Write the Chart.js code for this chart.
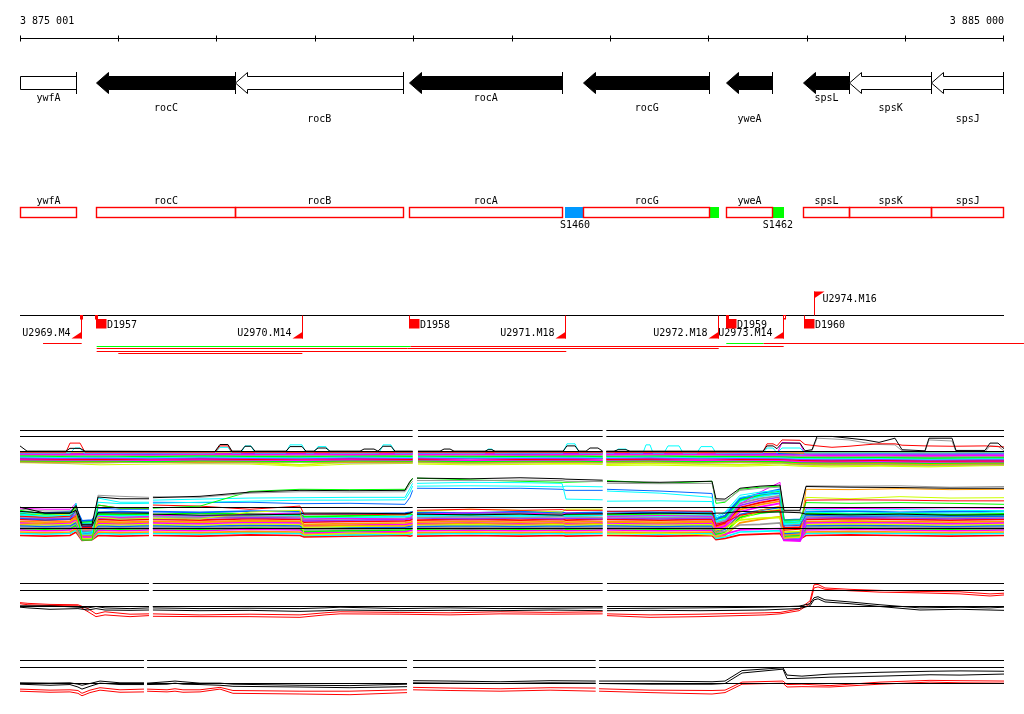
<!DOCTYPE html>
<html><head><meta charset="utf-8">
<style>html,body{margin:0;padding:0;background:#fff}canvas{display:block}</style>
<script src="https://cdn.jsdelivr.net/npm/chart.js@4.4.1/dist/chart.umd.min.js"></script>
</head><body>
<canvas id="c" width="1024" height="714"></canvas>
<script>
// ---------------- DATA ----------------
const X_MIN = 3875001, X_MAX = 3885000;
const tickPositions = [3875001,3876001,3877001,3878001,3879001,3880001,3881001,3882001,3883001,3884001,3885000];
const tickLabels = ['3 875 001','3 885 000'];

const geneNames  = ['ywfA','rocC','rocB','rocA','rocG','yweA','spsL','spsK','spsJ'];
const geneStart  = [3874650,3875780,3877189,3878957,3880729,3882185,3882964,3883428,3884268];
const geneEnd    = [3875580,3877189,3878896,3880512,3882009,3882643,3883428,3884268,3884995];
const geneStrand = [-1,-1,-1,-1,-1,-1,-1,-1,-1];
const geneFilled = [false,true,false,true,true,true,true,false,false];

const featureNames = ['S1460','','S1462'];
const featureStart = [3880549,3882012,3882643];
const featureEnd   = [3880732,3882101,3882762];
const featureKind  = ['blue','green','green'];

const uNames = ['U2969.M4','U2970.M14','U2971.M18','U2972.M18','U2973.M14','U2974.M16'];
const uPos   = [3875628,3877870,3880549,3882097,3882757,3883072];
const uDir   = [-1,-1,-1,-1,-1,1];
const dNames = ['D1957','D1958','D1959','D1960'];
const dPos   = [3875780,3878964,3882185,3882971];
const smallMarkPos    = [3875611,3875770,3882178,3882761];
const smallMarkFilled = [true,false,true,false];

const segStart = [3875235,3882178,3882558,3875780,3878971,3875780,3875780,3876000];
const segEnd   = [3875628,3882558,3885203,3878971,3882761,3882101,3880552,3877870];
const segKind  = ['red','green','red','green','red','red','red','red'];
const segRow   = [0,0,0,1,1,2,3,4];

// track segment extents (data present)
const segsA = [[3875001,3878991],[3879045,3880922],[3880959,3885000]];
const segsB = [[3875001,3876312],[3876350,3878991],[3879035,3880922],[3880966,3885000]];
const segsC = [[3875001,3876312],[3876350,3880922],[3880966,3885000]];
const segsD = [[3875001,3876261],[3876292,3878934],[3878995,3880851],[3880885,3885000]];

// ---- Track A (upper expression panel) ----
const posA = [3875001,3875407,3875814,3876322,3876830,3877338,3877846,3878354,3878991,3879015,3879045,3879573,3880081,3880589,3880922,3880940,3880959,3881403,3881911,3882317,3882724,3882927,3883232,3883740,3884248,3884755,3885000];
const bandA1  = [-0.1,-0.15,-0.1,-0.1,-0.15,-0.1,-0.1,-0.15,-0.1,null,-0.1,-0.15,-0.1,-0.1,-0.15,null,-0.1,-0.1,-0.15,-0.1,-0.1,-0.2,-0.15,-0.1,-0.15,-0.1,-0.1];
const bandA2  = [-0.2,-0.25,-0.2,-0.3,-0.2,-0.25,-0.2,-0.25,-0.2,null,-0.25,-0.2,-0.3,-0.2,-0.25,null,-0.2,-0.25,-0.2,-0.3,-0.25,-0.3,-0.35,-0.3,-0.35,-0.3,-0.3];
const bandA3  = [-0.35,-0.4,-0.35,-0.45,-0.35,-0.4,-0.35,-0.4,-0.35,null,-0.4,-0.35,-0.45,-0.4,-0.35,null,-0.4,-0.35,-0.4,-0.45,-0.4,-0.5,-0.55,-0.5,-0.6,-0.5,-0.55];
const bandA4  = [-0.45,-0.5,-0.55,-0.5,-0.45,-0.5,-0.55,-0.5,-0.45,null,-0.5,-0.55,-0.5,-0.45,-0.5,null,-0.55,-0.5,-0.45,-0.5,-0.55,-0.65,-0.7,-0.65,-0.75,-0.7,-0.7];
const bandA5  = [-0.6,-0.65,-0.6,-0.7,-0.6,-0.65,-0.7,-0.6,-0.65,null,-0.6,-0.7,-0.65,-0.6,-0.7,null,-0.65,-0.6,-0.7,-0.65,-0.7,-0.8,-0.85,-0.8,-0.9,-0.85,-0.85];
const bandA6  = [-0.75,-0.8,-0.75,-0.85,-0.75,-0.8,-0.85,-0.75,-0.8,null,-0.75,-0.85,-0.8,-0.75,-0.85,null,-0.8,-0.75,-0.85,-0.8,-0.85,-0.95,-1.0,-0.95,-1.05,-1.0,-1.0];
const bandA7  = [-0.9,-0.95,-0.9,-1.0,-0.9,-0.95,-1.0,-0.9,-0.95,null,-0.9,-1.0,-0.95,-0.9,-1.0,null,-0.95,-0.9,-1.0,-0.95,-1.0,-1.1,-1.15,-1.1,-1.2,-1.15,-1.15];
const bandA8  = [-1.0,-1.05,-1.1,-1.05,-1.0,-1.1,-1.05,-1.0,-1.1,null,-1.05,-1.0,-1.1,-1.05,-1.0,null,-1.1,-1.05,-1.0,-1.1,-1.05,-1.25,-1.3,-1.25,-1.35,-1.3,-1.3];
const bandA9  = [-1.15,-1.2,-1.15,-1.25,-1.15,-1.2,-1.25,-1.15,-1.2,null,-1.15,-1.25,-1.2,-1.15,-1.25,null,-1.2,-1.15,-1.25,-1.2,-1.25,-1.4,-1.45,-1.4,-1.5,-1.45,-1.45];
const bandA10 = [-1.3,-1.35,-1.3,-1.4,-1.3,-1.35,-1.4,-1.3,-1.35,null,-1.3,-1.4,-1.35,-1.3,-1.4,null,-1.35,-1.3,-1.4,-1.35,-1.4,-1.55,-1.6,-1.55,-1.65,-1.6,-1.6];
const bandA11 = [-1.4,-1.5,-1.45,-1.4,-1.5,-1.45,-1.4,-1.5,-1.45,null,-1.4,-1.5,-1.45,-1.4,-1.5,null,-1.45,-1.4,-1.5,-1.45,-1.5,-1.7,-1.75,-1.7,-1.8,-1.75,-1.75];
const bandA12 = [-1.5,-1.6,-1.55,-1.5,-1.6,-1.55,-1.5,-1.6,-1.55,null,-1.5,-1.6,-1.55,-1.5,-1.6,null,-1.55,-1.5,-1.6,-1.55,-1.6,-1.8,-1.85,-1.8,-1.9,-1.85,-1.85];
const bandA13 = [-1.3,-1.5,-1.6,-1.4,-1.5,-1.6,-1.9,-1.5,-1.6,null,-1.6,-1.7,-1.6,-1.7,-1.6,null,-1.8,-1.7,-1.8,-1.9,-1.7,-1.9,-2.0,-1.9,-2.05,-1.9,-1.85];
const bandA14 = [-1.6,-1.7,-1.9,-1.8,-1.75,-1.8,-2.1,-1.8,-1.7,null,-1.8,-1.9,-1.85,-1.8,-1.85,null,-2.0,-1.95,-2.05,-2.1,-1.95,-2.1,-2.2,-2.1,-2.2,-2.05,-2.0];

const peakBlackA = [[3875001,0.8],[3875072,0.05],[3875468,0.05],[3875509,0.45],[3875611,0.45],[3875661,0.05],
 [3876982,0.0],[3877033,1.0],[3877114,1.0],[3877155,0.05],[3877247,0.05],[3877287,0.75],[3877348,0.75],[3877389,0.05],
 [3877704,0.05],[3877745,0.7],[3877867,0.7],[3877907,0.05],[3877988,0.05],[3878029,0.5],[3878110,0.5],[3878151,0.05],
 [3878456,0.05],[3878497,0.35],[3878598,0.35],[3878639,0.05],[3878649,0.05],[3878690,0.75],[3878771,0.75],[3878812,0.05],
 [3878991,0.05],[3879015,null],[3879045,0.05],[3879269,0.05],[3879310,0.35],[3879371,0.35],[3879411,0.05],
 [3879726,0.05],[3879757,0.25],[3879797,0.25],[3879828,0.05],[3880519,0.05],[3880559,0.8],[3880641,0.8],[3880681,0.05],
 [3880753,0.05],[3880793,0.5],[3880874,0.5],[3880922,0.05],[3880940,null],[3880959,0.05],
 [3881037,0.05],[3881078,0.25],[3881159,0.25],[3881200,0.05],
 [3882551,0.05],[3882592,0.8],[3882653,0.8],[3882693,0.4],[3882744,1.2],[3882927,1.2],[3882978,0.1],
 [3883049,0.25],[3883100,2.15],[3883252,2.15],[3883425,1.9],[3883588,1.65],[3883730,1.3],[3883892,1.9],[3883964,0.25],
 [3884197,0.1],[3884238,1.9],[3884472,1.9],[3884512,0.15],[3884807,0.15],[3884858,1.2],[3884939,1.2],[3885000,0.4]];
const peakRedA = [[3875001,-0.1],[3875468,-0.1],[3875509,1.2],[3875611,1.2],[3875661,-0.1],
 [3876982,-0.1],[3877033,0.8],[3877114,0.8],[3877155,-0.1],[3878991,-0.1],[3879015,null],[3879045,-0.1],
 [3880922,-0.1],[3880940,null],[3880959,-0.1],
 [3882551,-0.1],[3882592,1.1],[3882653,1.1],[3882693,0.8],[3882744,1.65],[3882927,1.6],[3882978,1.0],
 [3883100,0.8],[3883252,0.6],[3883425,0.75],[3883588,0.95],[3883730,1.1],[3883892,1.1],[3883964,0.9],
 [3884197,0.8],[3884472,0.75],[3884807,0.8],[3885000,0.65]];
const peakCyanA = [[3875001,-0.2],[3875509,-0.2],[3875560,0.5],[3875611,0.5],[3875651,-0.2],
 [3876982,-0.2],[3877033,0.6],[3877114,0.6],[3877155,-0.2],[3877247,-0.2],[3877287,0.8],[3877348,0.8],[3877389,-0.2],
 [3877704,-0.2],[3877745,0.95],[3877867,0.95],[3877907,-0.2],[3877988,-0.2],[3878029,0.7],[3878110,0.7],[3878151,-0.2],
 [3878649,-0.2],[3878690,0.95],[3878771,0.95],[3878812,-0.2],[3878991,-0.2],[3879015,null],[3879045,-0.2],
 [3879726,-0.2],[3879757,0.35],[3879797,0.35],[3879828,-0.2],[3880519,-0.2],[3880559,1.1],[3880641,1.1],[3880681,-0.2],
 [3880922,-0.2],[3880940,null],[3880959,-0.2],[3881037,-0.2],[3881078,0.35],[3881159,0.35],[3881200,-0.2],
 [3881332,-0.2],[3881362,0.95],[3881403,0.95],[3881433,-0.2],[3881545,-0.2],[3881586,0.8],[3881698,0.8],[3881738,-0.2],
 [3881880,-0.2],[3881921,0.7],[3882033,0.7],[3882073,-0.2],
 [3882551,-0.2],[3882592,0.5],[3882653,0.5],[3882693,-0.2],[3882744,0.5],[3882927,0.5],[3882978,-0.2],[3885000,-0.2]];
const peakGrayA = [[3875001,-0.05],[3878991,-0.05],[3879015,null],[3879045,-0.05],[3880922,-0.05],[3880940,null],[3880959,-0.05],
 [3882978,-0.05],[3883049,0.1],[3883100,1.9],[3883252,1.8],[3883425,1.65],[3883588,1.25],[3883730,1.0],[3883892,0.95],
 [3883964,0.1],[3884197,-0.05],[3884238,1.65],[3884472,1.5],[3884512,-0.05],[3884807,-0.05],[3884858,0.8],[3884939,0.75],[3885000,0.1]];
const peakMagentaA = [[3875001,-0.35],[3878991,-0.35],[3879015,null],[3879045,-0.35],[3880922,-0.35],[3880940,null],[3880959,-0.35],
 [3882693,-0.35],[3882744,1.3],[3882927,1.15],[3882978,-0.35],[3885000,-0.35]];

// ---- Track B (lower expression panel) ----
const posB = [3875001,3875255,3875509,3875570,3875631,3875733,3875794,3876017,3876312,3876332,3876352,3876830,3877338,3877846,3877887,3878354,3878913,3878964,3878991,3879015,3879035,3879574,3880082,3880509,3880549,3880922,3880946,3880966,3881504,3882033,3882073,3882165,3882317,3882521,3882724,3882764,3882927,3882988,3883435,3883943,3884451,3885000];
const serB1  = [3.05,2.2,2.2,3.3,0.6,0.6,4.5,4.25,4.25,null,4.4,4.6,5.2,5.45,5.45,5.4,5.45,6.75,7.1,null,7.2,7.1,7.25,7.1,7.05,6.9,null,6.7,6.6,6.75,4.25,4.2,5.75,6.05,6.2,2.6,2.6,6.0,5.9,5.85,5.75,5.75];
const serB2  = [2.75,2.5,2.5,3.2,-0.25,-0.25,4.75,4.6,4.45,null,4.55,4.45,5.05,5.25,5.25,5.2,5.25,6.35,6.75,null,6.85,6.85,6.9,6.85,6.75,6.7,null,6.45,6.4,6.45,4.05,3.9,5.45,5.75,5.9,2.35,2.35,6.1,6.05,6.1,5.9,6.0];
const serB3  = [2.6,2.05,2.2,3.05,-1.65,-1.65,3.35,2.9,2.9,null,2.9,3.2,5.3,5.6,5.6,5.55,5.6,6.6,7.2,null,7.2,6.95,6.75,6.6,6.6,6.75,null,6.85,6.45,6.75,3.6,3.75,5.6,5.9,6.05,1.2,1.2,3.7,3.6,3.7,3.6,3.45];
const serB4  = [2.35,2.05,2.2,3.45,-0.65,-0.5,4.35,3.75,3.75,null,4.05,4.2,4.35,4.4,4.4,4.45,4.45,5.75,6.45,null,6.45,6.6,6.55,6.45,4.2,4.1,null,5.35,5.05,4.45,1.75,2.35,4.75,5.2,5.45,0.9,1.05,2.75,2.6,2.7,2.6,2.55];
const serB5  = [2.05,1.75,1.9,3.6,-0.8,-0.8,3.75,3.55,3.6,null,3.6,3.75,3.9,4.05,4.05,4.05,4.1,5.2,6.05,null,6.05,6.1,6.05,5.95,6.05,5.95,null,3.9,3.95,3.85,1.45,2.2,4.45,4.9,5.2,0.6,0.75,2.35,2.2,2.25,2.2,2.35];
const serB6  = [1.45,1.2,1.35,2.75,-0.5,-0.5,2.9,2.75,2.75,null,3.75,3.7,3.75,3.55,3.55,3.6,3.45,4.45,5.45,null,5.75,5.7,5.75,5.6,5.45,5.45,null,5.6,5.35,5.0,1.2,1.9,4.35,4.9,5.05,0.35,0.45,1.9,1.75,1.8,1.75,1.7];
const serB7  = [1.75,1.6,1.75,2.45,0.05,0.05,3.35,2.9,2.85,null,3.35,3.2,2.75,3.2,2.05,2.05,1.95,2.2,2.35,null,2.6,2.75,2.6,2.7,2.6,2.6,null,2.45,2.55,2.45,0.6,0.9,1.9,2.35,2.6,-0.25,-0.1,4.05,4.1,4.05,3.95,3.95];
const serB8  = [0.6,0.75,0.9,1.9,-0.95,-0.95,0.9,0.75,0.9,null,1.05,0.9,1.2,1.05,0.35,0.45,0.35,0.45,0.6,null,0.6,0.75,0.6,0.75,0.6,0.75,null,0.9,0.75,0.9,-0.55,0.05,1.75,2.6,3.2,-0.95,-0.8,5.6,5.55,5.7,5.55,5.6];
const serB9  = [2.35,1.9,2.05,2.9,-1.4,-1.4,1.6,1.35,1.45,null,1.45,1.35,2.35,2.6,-0.95,-0.65,-0.75,-0.6,-0.5,null,2.45,2.75,2.6,2.35,2.75,2.75,null,-0.8,-0.65,-0.95,-1.1,-0.65,1.35,2.35,2.75,-1.4,-1.25,4.45,4.25,4.55,4.35,4.4];
const serB10 = [2.9,2.75,2.75,3.6,-1.1,-1.25,1.75,1.6,1.7,null,1.9,1.75,2.05,2.2,1.35,1.45,1.35,1.45,1.9,null,2.05,2.25,2.2,2.05,2.2,2.05,null,1.75,1.85,1.75,0.05,0.45,3.45,5.2,6.6,-1.4,-1.55,2.9,2.85,2.9,2.95,2.9];
const serB11 = [2.45,2.2,2.2,2.6,0.35,0.35,2.25,2.2,2.2,null,2.05,1.9,1.95,2.05,2.2,2.2,2.1,2.2,2.35,null,2.05,1.95,2.05,1.9,2.05,2.1,null,2.1,2.2,2.1,2.2,2.2,2.45,2.35,2.35,2.35,2.25,2.05,1.95,2.05,1.9,1.95];
const bandB1  = [2.3,2.2,2.4,2.9,1.1,1.2,2.3,2.4,2.3,null,2.4,2.3,2.5,2.4,2.0,2.1,2.2,2.3,2.4,null,2.3,2.2,2.4,2.3,2.2,2.3,null,2.4,2.3,2.4,1.5,1.8,4.3,5.0,5.6,1.2,1.3,2.4,2.5,2.3,2.4,2.5];
const bandB2  = [2.1,2.0,2.2,2.7,0.9,1.0,2.1,2.0,2.1,null,2.0,2.2,2.1,2.0,1.7,1.8,2.0,2.1,2.0,null,2.1,2.0,2.2,2.1,2.0,2.1,null,2.0,2.1,2.2,1.3,1.6,4.1,4.8,5.3,0.9,1.0,2.2,2.1,2.2,2.0,2.1];
const bandB3  = [1.9,1.8,1.9,2.5,0.7,0.8,1.9,1.8,1.9,null,1.9,1.8,2.0,1.9,1.5,1.6,1.7,1.8,1.9,null,1.8,1.9,1.8,1.9,1.8,1.9,null,1.9,1.8,1.9,1.0,1.4,3.9,4.6,5.0,0.7,0.8,1.9,2.0,1.9,1.8,1.9];
const bandB4  = [1.7,1.6,1.7,2.3,0.5,0.6,1.7,1.6,1.7,null,1.7,1.6,1.8,1.7,1.3,1.4,1.5,1.6,1.7,null,1.6,1.7,1.6,1.7,1.7,1.6,null,1.7,1.6,1.7,0.8,1.2,3.6,4.3,4.7,0.5,0.6,1.7,1.8,1.7,1.6,1.7];
const bandB5  = [1.5,1.4,1.5,2.0,0.3,0.4,1.5,1.4,1.5,null,1.4,1.5,1.6,1.5,1.1,1.2,1.3,1.4,1.5,null,1.5,1.4,1.5,1.4,1.5,1.4,null,1.5,1.4,1.5,0.6,1.0,3.3,4.0,4.5,-1.5,-1.6,1.5,1.6,1.5,1.4,1.5];
const bandB6  = [1.3,1.2,1.3,1.8,0.1,0.2,1.3,1.2,1.3,null,1.3,1.2,1.4,1.3,0.9,1.0,1.1,1.2,1.3,null,1.2,1.3,1.2,1.3,1.2,1.3,null,1.3,1.2,1.3,0.4,0.8,3.0,3.7,4.2,0.1,0.2,1.3,1.4,1.3,1.2,1.3];
const bandB7  = [1.0,0.9,1.0,1.5,-0.1,0.0,1.0,0.9,1.0,null,1.0,0.9,1.1,1.0,0.6,0.7,0.8,0.9,1.0,null,0.9,1.0,0.9,1.0,0.9,1.0,null,1.0,0.9,1.0,0.2,0.6,2.7,3.4,3.9,-0.1,0.0,1.0,1.1,1.0,0.9,1.0];
const bandB8  = [0.8,0.7,0.8,1.3,-0.3,-0.2,0.8,0.7,0.8,null,0.8,0.7,0.9,0.8,0.4,0.5,0.6,0.7,0.8,null,0.7,0.8,0.7,0.8,0.7,0.8,null,0.8,0.7,0.8,0.0,0.3,2.4,3.1,3.6,-1.6,-1.7,0.8,0.9,0.8,0.7,0.8];
const bandB9  = [0.6,0.5,0.6,1.1,-0.5,-0.4,0.6,0.5,0.6,null,0.6,0.5,0.7,0.6,0.2,0.3,0.4,0.5,0.6,null,0.5,0.6,0.5,0.6,0.5,0.6,null,0.6,0.5,0.6,-0.2,0.1,1.2,1.5,1.6,-0.5,-0.4,0.6,0.7,0.6,0.5,0.6];
const bandB10 = [0.4,0.3,0.4,0.9,-0.7,-0.6,0.4,0.3,0.4,null,0.4,0.3,0.5,0.4,0.0,0.1,0.2,0.3,0.4,null,0.3,0.4,0.3,0.4,0.3,0.4,null,0.4,0.3,0.4,-0.4,-0.1,2.0,2.6,3.0,-0.7,-0.6,0.4,0.5,0.4,0.3,0.4];
const bandB11 = [0.2,0.1,0.2,0.7,-0.9,-0.8,0.2,0.1,0.2,null,0.2,0.1,0.3,0.2,-0.2,-0.1,0.0,0.1,0.2,null,0.1,0.2,0.1,0.2,0.1,0.2,null,0.2,0.1,0.2,-0.6,-0.4,0.5,0.6,0.8,-0.9,-0.8,0.2,0.3,0.2,0.1,0.2];
const bandB12 = [0.0,-0.1,0.0,0.5,-1.1,-1.0,0.0,-0.1,0.0,null,0.0,-0.1,0.1,0.0,-0.4,-0.3,-0.2,-0.1,0.0,null,-0.1,0.0,-0.1,0.0,-0.1,0.0,null,0.0,-0.1,0.0,-0.8,-0.6,1.6,2.2,2.5,-1.1,-1.0,0.0,0.1,0.0,-0.1,0.0];
const bandB13 = [-0.2,-0.3,-0.2,0.3,-1.3,-1.2,-0.2,-0.3,-0.2,null,-0.2,-0.3,-0.1,-0.2,-0.6,-0.5,-0.4,-0.3,-0.2,null,-0.3,-0.2,-0.3,-0.2,-0.3,-0.2,null,-0.2,-0.3,-0.2,-1.0,-0.8,-0.2,-0.1,0.0,-1.7,-1.8,-0.2,-0.1,-0.2,-0.3,-0.2];
const bandB14 = [-0.5,-0.6,-0.5,0.0,-1.5,-1.4,-0.5,-0.6,-0.5,null,-0.5,-0.6,-0.4,-0.5,-0.8,-0.7,-0.6,-0.6,-0.5,null,-0.6,-0.5,-0.6,-0.5,-0.6,-0.5,null,-0.5,-0.6,-0.5,-1.2,-1.0,0.8,1.3,1.7,-1.3,-1.2,-0.5,-0.4,-0.5,-0.6,-0.5];
const bandB15 = [-0.7,-0.8,-0.7,-0.2,-1.6,-1.5,-0.7,-0.8,-0.7,null,-0.7,-0.8,-0.6,-0.7,-1.0,-0.9,-0.8,-0.8,-0.7,null,-0.8,-0.7,-0.8,-0.7,-0.8,-0.7,null,-0.7,-0.8,-0.7,-1.4,-1.2,-0.5,-0.4,-0.3,-1.5,-1.4,-0.7,-0.6,-0.7,-0.8,-0.7];
const bandB16 = [-1.0,-1.1,-1.0,-0.5,-1.7,-1.6,-1.0,-1.1,-1.0,null,-1.0,-1.1,-0.9,-1.0,-1.2,-1.1,-1.0,-1.1,-1.0,null,-1.1,-1.0,-1.1,-1.0,-1.1,-1.0,null,-1.0,-1.1,-1.0,-1.6,-1.4,-0.9,-0.8,-0.7,-1.6,-1.5,-1.0,-0.9,-1.0,-1.1,-1.0];

// ---- Track C (ratio panel 1) ----
const posC = [3875001,3875082,3875306,3875590,3875692,3875773,3875865,3876119,3876312,3876332,3876352,3876830,3877338,3877846,3878100,3878253,3878862,3879371,3879879,3880387,3880922,3880946,3880966,3881403,3881911,3882571,3882724,3882917,3883029,3883069,3883110,3883181,3883435,3883740,3884146,3884553,3884858,3885000];
const blackC1 = [0.1,0.1,0.1,-0.1,-0.2,0,-0.2,-0.3,-0.2,null,-0.2,-0.3,-0.25,-0.3,-0.2,-0.1,-0.3,-0.2,-0.3,-0.25,-0.2,null,-0.3,-0.25,-0.2,-0.1,-0.05,0.05,0.4,1.25,1.4,0.95,0.65,0.25,-0.2,-0.1,-0.2,-0.1];
const blackC2 = [-0.1,-0.2,-0.4,-0.3,-0.5,-0.3,-0.5,-0.55,-0.5,null,-0.5,-0.6,-0.55,-0.7,-0.6,-0.5,-0.6,-0.55,-0.6,-0.5,-0.6,null,-0.6,-0.55,-0.6,-0.5,-0.4,-0.3,0.1,0.95,1.1,0.65,0.4,0,-0.5,-0.4,-0.5,-0.55];
const redC1   = [0.55,0.45,0.3,0.25,-0.3,-1.05,-0.75,-1.1,-1.05,null,-1.05,-1.2,-1.1,-1.2,-0.9,-0.75,-0.85,-0.9,-0.75,-0.85,-0.75,null,-1.05,-1.2,-1.1,-0.9,-0.85,-0.35,0.8,3.1,3.15,2.65,2.45,2.3,2.15,2.1,1.8,1.9];
const redC2   = [0.4,0.25,0.15,0.1,-0.75,-1.45,-1.2,-1.45,-1.3,null,-1.4,-1.45,-1.45,-1.55,-1.2,-1.05,-1.1,-1.2,-1.05,-1.1,-1.05,null,-1.3,-1.55,-1.45,-1.2,-1.05,-0.6,0.4,2.65,2.8,2.45,2.25,2.05,1.95,1.8,1.5,1.65];

// ---- Track D (ratio panel 2) ----
const posD = [3875001,3875306,3875509,3875590,3875631,3875712,3875814,3876017,3876261,3876276,3876292,3876495,3876576,3876657,3876830,3877033,3877165,3877846,3878354,3878934,3878964,3878995,3879371,3879879,3880387,3880851,3880867,3880885,3881403,3882033,3882165,3882338,3882754,3882795,3882947,3883232,3883740,3884248,3884553,3885000];
const blackD1 = [0.1,0.05,0.1,-0.1,-0.25,0,0.35,0.1,0.1,null,0.05,0.25,0.35,0.25,0.05,0.05,-0.1,-0.25,-0.3,-0.1,null,0.4,0.35,0.25,0.4,0.35,null,0.35,0.35,0.25,0.35,1.85,2.25,1.2,1.05,1.35,1.6,1.75,1.8,1.75];
const blackD2 = [-0.1,-0.25,-0.15,-0.5,-0.8,-0.4,0.05,-0.15,-0.15,null,-0.15,-0.1,0.05,-0.1,-0.15,-0.25,-0.4,-0.5,-0.6,-0.45,null,0.1,0.05,0,0.1,0.05,null,0,-0.1,-0.1,0,1.5,2.05,0.7,0.75,0.9,1.05,1.25,1.2,1.35];
const redD1   = [-0.8,-0.95,-0.9,-1.0,-1.4,-0.95,-0.6,-0.9,-0.8,null,-0.8,-0.9,-0.75,-0.9,-0.9,-0.55,-1.0,-1.1,-1.1,-0.9,null,-0.55,-0.65,-0.75,-0.6,-0.65,null,-0.75,-0.95,-1.0,-0.95,0.2,0.35,-0.15,-0.1,-0.3,0.2,0.45,0.4,0.35];
const redD2   = [-1.1,-1.25,-1.2,-1.4,-1.75,-1.3,-0.95,-1.25,-1.2,null,-1.1,-1.2,-1.1,-1.25,-1.2,-0.8,-1.4,-1.5,-1.6,-1.3,null,-0.9,-1.0,-1.1,-0.95,-1.1,null,-1.1,-1.3,-1.5,-1.3,-0.1,0.05,-0.5,-0.45,-0.5,-0.1,0.2,0.1,0.05];

// ---------------- LAYOUT & STYLE ----------------
const L = {
  height: 714,
  font: '10px "DejaVu Sans Mono", monospace',
  axisRow: 38.5, tickTop: 35.5, tickBot: 41.5, axisLabelBase: 24,
  bodyTop: 76.5, bodyBot: 89.5, headTop: 72.5, headBot: 93.5, headLen: 12,
  geneLabelBase: [101, 111, 122],
  boxTop: 207.5, boxBot: 217.5, boxLabelBase: 204, featLabelBase: 227.5,
  markRow: 315.5, uDownEnd: 338.5, uUpEnd: 291.5, triW: 10, triH: 7,
  uLabelGap: 11, uDownLabelBase: 336, uUpLabelBase: 302, uUpLabelGap: 8,
  dStemEnd: 319.5, dRectTop: 319, dRectH: 9.5, dRectW: 10.5, dLabelBase: 328, dLabelGap: 10.5,
  smallTop: 315, smallW: 3, smallH: 4.5,
  segRows: [343.5, 346.5, 348.5, 351.5, 353.5],
  lineW: 1, bandW: 1.7,
  tracks: {
    yA: {base: 451.5, unit: 7, refs: [0, 15, 21]},
    yB: {base: 528.5, unit: 7, refs: [0, 21]},
    yC: {base: 606.5, unit: 7, refs: [0, 16, 23]},
    yD: {base: 683.5, unit: 7, refs: [0, 16, 23]}
  }
};
const C = {black:'#000000', red:'#ff0000', lime:'#00ff00', green:'#00ff00', blue:'#0066ff', featBlue:'#0099ff',
  cyan:'#00ffff', magenta:'#ff00ff', ygreen:'#ccff00', orange:'#ff9900', gray:'#999999', purple:'#9933ff'};

// ---------------- DATASETS ----------------
function series(pos, vals, color, axis, w) {
  return { data: pos.map((x, i) => ({x, y: (vals[i] === undefined ? null : vals[i])})),
    borderColor: color, yAxisID: axis, borderWidth: w || L.lineW, pointRadius: 0, tension: 0, spanGaps: false, fill: false };
}
function band(pos, vals, color, axis) { return series(pos, vals, color, axis, L.bandW); }
function pairs(list, color, axis) {
  return { data: list.map(([x, y]) => ({x, y})), borderColor: color, yAxisID: axis,
    borderWidth: L.lineW, pointRadius: 0, tension: 0, spanGaps: false, fill: false };
}
function refLines(segs, axisId) {
  const t = L.tracks[axisId];
  return t.refs.map(off => {
    const v = off / t.unit, data = [];
    segs.forEach(([s, e], k) => {
      if (k) data.push({x: (segs[k-1][1] + s) / 2, y: null});
      data.push({x: s, y: v}, {x: e, y: v});
    });
    return {data, borderColor: C.black, yAxisID: axisId, borderWidth: 1, pointRadius: 0, spanGaps: false, fill: false};
  });
}

const datasets = [].concat(
  refLines(segsA, 'yA'), refLines(segsB, 'yB'), refLines(segsC, 'yC'), refLines(segsD, 'yD'),
  [
    pairs(peakBlackA, C.black, 'yA'), pairs(peakRedA, C.red, 'yA'), pairs(peakGrayA, C.gray, 'yA'),
    pairs(peakCyanA, C.cyan, 'yA'), pairs(peakMagentaA, C.magenta, 'yA'),
    band(posA, bandA1, C.orange, 'yA'), band(posA, bandA2, C.blue, 'yA'), band(posA, bandA3, C.magenta, 'yA'),
    band(posA, bandA4, C.gray, 'yA'), band(posA, bandA5, C.lime, 'yA'), band(posA, bandA6, C.cyan, 'yA'),
    band(posA, bandA7, C.purple, 'yA'), band(posA, bandA8, C.red, 'yA'), band(posA, bandA9, C.magenta, 'yA'),
    band(posA, bandA10, C.lime, 'yA'), band(posA, bandA11, C.orange, 'yA'), band(posA, bandA12, C.gray, 'yA'),
    band(posA, bandA13, C.ygreen, 'yA'), series(posA, bandA14, C.ygreen, 'yA'),

    series(posB, serB1, C.black, 'yB'), series(posB, serB11, C.black, 'yB'), series(posB, serB2, C.gray, 'yB'),
    series(posB, serB3, C.lime, 'yB'), series(posB, serB4, C.cyan, 'yB'), series(posB, serB5, C.cyan, 'yB'),
    series(posB, serB6, C.blue, 'yB'), series(posB, serB7, C.red, 'yB'), series(posB, serB8, C.orange, 'yB'),
    series(posB, serB9, C.ygreen, 'yB'), series(posB, serB10, C.magenta, 'yB'),
    band(posB, bandB1, C.blue, 'yB'), band(posB, bandB2, C.lime, 'yB'), band(posB, bandB3, C.cyan, 'yB'),
    band(posB, bandB4, C.gray, 'yB'), band(posB, bandB5, C.purple, 'yB'), band(posB, bandB6, C.red, 'yB'),
    band(posB, bandB7, C.orange, 'yB'), band(posB, bandB8, C.magenta, 'yB'), band(posB, bandB9, C.ygreen, 'yB'),
    band(posB, bandB10, C.blue, 'yB'), band(posB, bandB11, C.gray, 'yB'), band(posB, bandB12, C.lime, 'yB'),
    band(posB, bandB13, C.magenta, 'yB'), band(posB, bandB14, C.orange, 'yB'), band(posB, bandB15, C.cyan, 'yB'),
    band(posB, bandB16, C.red, 'yB'),

    series(posC, blackC1, C.black, 'yC'), series(posC, blackC2, C.black, 'yC'),
    series(posC, redC1, C.red, 'yC'), series(posC, redC2, C.red, 'yC'),
    series(posD, blackD1, C.black, 'yD'), series(posD, blackD2, C.black, 'yD'),
    series(posD, redD1, C.red, 'yD'), series(posD, redD2, C.red, 'yD')
  ]
);

// ---------------- ANNOTATION PLUGIN ----------------
const annot = {
  id: 'annot',
  afterDatasetsDraw(chart) {
    const ctx = chart.ctx, xs = chart.scales.x, rs = chart.scales.row;
    const X = v => xs.getPixelForValue(v);
    const R = v => rs.getPixelForValue(v);
    const col = v => Math.floor(X(v)) + 0.5;
    ctx.save();
    ctx.font = L.font; ctx.lineWidth = 1; ctx.textBaseline = 'alphabetic';

    // coordinate axis
    ctx.strokeStyle = C.black; ctx.fillStyle = C.black;
    ctx.beginPath();
    ctx.moveTo(X(X_MIN), R(L.axisRow)); ctx.lineTo(X(X_MAX), R(L.axisRow));
    tickPositions.forEach(t => { const x = Math.min(col(t), X(X_MAX) - 0.5); ctx.moveTo(x, R(L.tickTop)); ctx.lineTo(x, R(L.tickBot)); });
    ctx.stroke();
    ctx.textAlign = 'left'; ctx.fillText(tickLabels[0], X(tickPositions[0]), R(L.axisLabelBase));
    ctx.textAlign = 'right'; ctx.fillText(tickLabels[1], X(tickPositions[tickPositions.length - 1]), R(L.axisLabelBase));

    // gene arrows
    const mid = (L.bodyTop + L.bodyBot) / 2;
    geneNames.forEach((name, i) => {
      const s = Math.max(geneStart[i], X_MIN), e = Math.min(geneEnd[i], X_MAX);
      const x0 = col(s), x1 = col(e);
      const head = geneStrand[i] < 0 ? geneStart[i] >= X_MIN : geneEnd[i] <= X_MAX;
      ctx.beginPath();
      if (head && geneStrand[i] < 0) {
        const hb = x0 + L.headLen;
        ctx.moveTo(x0, R(mid)); ctx.lineTo(hb, R(L.headTop)); ctx.lineTo(hb, R(L.bodyTop)); ctx.lineTo(x1, R(L.bodyTop));
        ctx.lineTo(x1, R(L.bodyBot)); ctx.lineTo(hb, R(L.bodyBot)); ctx.lineTo(hb, R(L.headBot)); ctx.closePath();
      } else if (head) {
        const hb = x1 - L.headLen;
        ctx.moveTo(x1, R(mid)); ctx.lineTo(hb, R(L.headTop)); ctx.lineTo(hb, R(L.bodyTop)); ctx.lineTo(x0, R(L.bodyTop));
        ctx.lineTo(x0, R(L.bodyBot)); ctx.lineTo(hb, R(L.bodyBot)); ctx.lineTo(hb, R(L.headBot)); ctx.closePath();
      } else {
        ctx.rect(x0, R(L.bodyTop), x1 - x0, R(L.bodyBot) - R(L.bodyTop));
      }
      ctx.fillStyle = geneFilled[i] ? C.black : '#ffffff';
      ctx.fill(); ctx.strokeStyle = C.black; ctx.stroke();
      const bx = geneStrand[i] < 0 ? x1 : x0;
      ctx.beginPath(); ctx.moveTo(bx, R(L.headTop) - 0.5); ctx.lineTo(bx, R(L.headBot) + 0.5); ctx.stroke();
      ctx.fillStyle = C.black; ctx.textAlign = 'center';
      ctx.fillText(name, (X(s) + X(e)) / 2, R(L.geneLabelBase[i % 3]));
    });

    // feature boxes (row 2)
    featureNames.forEach((name, i) => {
      const x0 = col(featureStart[i]), x1 = col(featureEnd[i]);
      ctx.fillStyle = featureKind[i] === 'blue' ? C.featBlue : C.green;
      ctx.fillRect(x0 - 0.5, R(L.boxTop) - 0.5, x1 - x0 + 1, R(L.boxBot) - R(L.boxTop) + 1);
      if (name) { ctx.fillStyle = C.black; ctx.textAlign = 'center';
        ctx.fillText(name, (X(featureStart[i]) + X(featureEnd[i])) / 2, R(L.featLabelBase)); }
    });
    geneNames.forEach((name, i) => {
      const s = Math.max(geneStart[i], X_MIN), e = Math.min(geneEnd[i], X_MAX);
      const x0 = col(s), x1 = col(e);
      ctx.strokeStyle = C.red; ctx.lineWidth = 1.4;
      ctx.strokeRect(x0, R(L.boxTop), x1 - x0, R(L.boxBot) - R(L.boxTop));
      ctx.lineWidth = 1;
      ctx.fillStyle = C.black; ctx.textAlign = 'center';
      ctx.fillText(name, (X(s) + X(e)) / 2, R(L.boxLabelBase));
    });

    // marker row
    ctx.strokeStyle = C.black; ctx.beginPath();
    ctx.moveTo(X(X_MIN), R(L.markRow)); ctx.lineTo(X(X_MAX), R(L.markRow)); ctx.stroke();
    ctx.strokeStyle = C.red; ctx.fillStyle = C.red;
    smallMarkPos.forEach((p, i) => {
      const x = Math.floor(X(p));
      if (smallMarkFilled[i]) ctx.fillRect(x, R(L.smallTop), L.smallW, L.smallH);
      else ctx.strokeRect(x + 0.5, R(L.smallTop) + 0.5, L.smallW - 1, L.smallH - 1);
    });
    uNames.forEach((name, i) => {
      const x = col(uPos[i]);
      ctx.strokeStyle = C.red; ctx.fillStyle = C.red;
      ctx.beginPath();
      if (uDir[i] < 0) {
        ctx.moveTo(x, R(L.markRow)); ctx.lineTo(x, R(L.uDownEnd)); ctx.stroke();
        ctx.beginPath(); ctx.moveTo(x - L.triW, R(L.uDownEnd)); ctx.lineTo(x + 0.5, R(L.uDownEnd));
        ctx.lineTo(x + 0.5, R(L.uDownEnd) - L.triH); ctx.closePath(); ctx.fill();
        ctx.fillStyle = C.black; ctx.textAlign = 'right';
        ctx.fillText(name, x - L.uLabelGap, R(L.uDownLabelBase));
      } else {
        ctx.moveTo(x, R(L.markRow)); ctx.lineTo(x, R(L.uUpEnd)); ctx.stroke();
        ctx.beginPath(); ctx.moveTo(x - 0.5, R(L.uUpEnd)); ctx.lineTo(x + L.triW, R(L.uUpEnd));
        ctx.lineTo(x - 0.5, R(L.uUpEnd) + L.triH); ctx.closePath(); ctx.fill();
        ctx.fillStyle = C.black; ctx.textAlign = 'left';
        ctx.fillText(name, x + L.uUpLabelGap, R(L.uUpLabelBase));
      }
    });
    dNames.forEach((name, i) => {
      const x = col(dPos[i]);
      ctx.strokeStyle = C.red; ctx.fillStyle = C.red;
      ctx.beginPath(); ctx.moveTo(x, R(L.markRow)); ctx.lineTo(x, R(L.dStemEnd)); ctx.stroke();
      ctx.fillRect(x - 0.5, R(L.dRectTop), L.dRectW, L.dRectH);
      ctx.fillStyle = C.black; ctx.textAlign = 'left';
      ctx.fillText(name, x + L.dLabelGap, R(L.dLabelBase));
    });

    // transcript segments (not clipped)
    segStart.forEach((s, i) => {
      ctx.strokeStyle = segKind[i] === 'green' ? C.green : C.red;
      ctx.beginPath(); ctx.moveTo(X(s), R(L.segRows[segRow[i]])); ctx.lineTo(X(segEnd[i]), R(L.segRows[segRow[i]])); ctx.stroke();
    });
    ctx.restore();
  }
};

// ---------------- CHART ----------------
const scales = {
  x: {type: 'linear', min: X_MIN, max: X_MAX, bounds: 'data', display: false},
  row: {type: 'linear', axis: 'y', position: 'left', min: 0, max: L.height, reverse: true, bounds: 'data', display: false}
};
for (const [id, t] of Object.entries(L.tracks)) {
  scales[id] = {type: 'linear', axis: 'y', position: 'left', bounds: 'data',
    min: (t.base - L.height) / t.unit, max: t.base / t.unit, display: false};
}
new Chart(document.getElementById('c'), {
  type: 'line',
  data: {datasets},
  options: {
    responsive: false, maintainAspectRatio: false, animation: false, devicePixelRatio: 1, events: [],
    layout: {padding: {left: 20, right: 20, top: 0, bottom: 0}},
    scales,
    plugins: {legend: {display: false}, tooltip: {enabled: false}, title: {display: false}},
    elements: {point: {radius: 0}, line: {borderWidth: 1, tension: 0}}
  },
  plugins: [annot]
});
</script>
</body></html>
